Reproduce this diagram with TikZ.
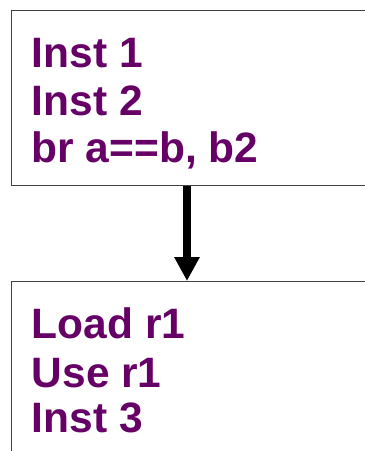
\documentclass[tikz,border=0pt]{standalone}
\usepackage{fontspec}
\setmainfont{Liberation Sans}
\usetikzlibrary{arrows.meta}
\definecolor{txtpurple}{RGB}{102,0,102}
\definecolor{boxgrey}{RGB}{64,64,64}
\tikzset{
  blk/.style={draw=boxgrey, line width=1pt, fill=white},
  instr/.style={anchor=base west, inner sep=0pt, text=txtpurple, font=\fontsize{42.5}{48}\selectfont\bfseries},
  flow/.style={line width=7.5pt, -{Triangle[width=24pt,length=24pt]}}
}
\begin{document}
\begin{tikzpicture}[x=1pt,y=-1pt]
\useasboundingbox (0,0) rectangle (365,451);
\clip (0,0) rectangle (365,451);
\draw[blk] (11,10) rectangle (380,185);
\draw[blk] (11,281) rectangle (380,480);
\node[instr] (t1) at (31.5,67.5) {Inst 1};
\node[instr] (t2) at (31.5,115.5) {Inst 2};
\node[instr] (t3) at (31.5,162) {br a==b, b2};
\node[instr] (u1) at (31.5,338.5) {Load r1};
\node[instr] (u2) at (31.5,387) {Use r1};
\node[instr] (u3) at (31.5,432) {Inst 3};
\coordinate (a1) at (187,185.5);
\coordinate (a2) at (187,281);
\draw[flow] (a1) -- (a2);
\end{tikzpicture}
\end{document}
